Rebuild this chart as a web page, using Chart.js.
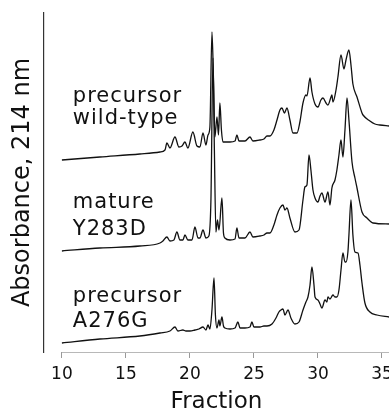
<!DOCTYPE html>
<html>
<head>
<meta charset="utf-8">
<script src="https://cdn.jsdelivr.net/npm/chart.js@4.4.1/dist/chart.umd.min.js"></script>
<style>
  html, body { margin: 0; padding: 0; background: #fff; overflow: hidden; }
  #wrap { width: 389px; height: 413px; overflow: hidden; }
</style>
</head>
<body>
<div id="wrap"><canvas id="hplc-chart" width="410" height="413"></canvas></div>
<script>
// tick labels on the fraction axis
const fractionTicks = [10, 15, 20, 25, 30, 35];

// precursor wild-type (top trace), absorbance in arbitrary units
const wildTypeFraction = [10.00, 12.97, 16.09, 17.66, 18.05, 18.20, 18.44, 18.83, 19.14, 19.38, 19.61, 19.84, 20.23, 20.55, 20.78, 21.02, 21.25, 21.41, 21.56, 21.72, 21.84, 21.95, 22.11, 22.23, 22.34, 22.46, 22.58, 23.13, 23.52, 23.67, 23.83, 24.30, 24.69, 24.92, 25.47, 25.78, 26.02, 26.25, 26.56, 26.80, 27.03, 27.19, 27.38, 27.58, 27.81, 28.05, 28.36, 28.59, 28.83, 29.06, 29.14, 29.38, 29.53, 29.77, 30.00, 30.23, 30.39, 30.63, 30.78, 31.02, 31.09, 31.17, 31.41, 31.56, 31.80, 32.03, 32.19, 32.42, 32.58, 32.73, 33.05, 33.44, 33.52, 34.06, 34.45, 34.84, 35.55];
const wildTypeAbs = [192, 195, 198, 200, 202, 209, 204, 215, 205, 206, 210, 204, 220, 206, 205, 219, 207, 217, 225, 320, 272, 215, 235, 217, 249, 222, 210, 210, 211, 217, 211, 211, 215, 211, 212, 213, 216, 216, 222, 232, 242, 244, 239, 244, 232, 219, 219, 230, 249, 257, 256, 274, 260, 248, 245, 252, 254, 249, 247, 255, 257, 250, 262, 275, 297, 283, 292, 302, 287, 268, 255, 239, 237, 231, 228, 227, 226];

// mature Y283D (middle trace)
const y283dFraction = [10.00, 12.97, 16.09, 17.66, 17.89, 18.20, 18.44, 18.75, 18.98, 19.22, 19.45, 19.61, 19.84, 20.16, 20.39, 20.63, 20.78, 21.02, 21.25, 21.48, 21.64, 21.80, 21.91, 22.03, 22.15, 22.27, 22.50, 22.62, 22.73, 23.13, 23.52, 23.67, 23.83, 24.30, 24.69, 24.92, 25.47, 25.78, 26.02, 26.25, 26.56, 26.80, 27.03, 27.27, 27.42, 27.58, 27.81, 28.20, 28.52, 28.83, 28.98, 29.14, 29.30, 29.45, 29.61, 29.77, 30.00, 30.16, 30.31, 30.55, 30.78, 30.94, 31.09, 31.33, 31.48, 31.64, 31.80, 31.95, 32.11, 32.27, 32.42, 32.66, 32.89, 33.05, 33.44, 33.83, 34.30, 35.55];
const y283dAbs = [101, 104, 106, 109, 111, 115, 111, 112, 120, 112, 112, 117, 112, 112, 125, 114, 114, 122, 114, 116, 152, 294, 202, 120, 132, 122, 154, 119, 114, 112, 113, 124, 114, 114, 120, 115, 116, 117, 119, 119, 127, 137, 144, 147, 142, 144, 134, 120, 122, 152, 165, 167, 197, 182, 162, 154, 150, 156, 159, 150, 160, 147, 164, 172, 182, 197, 212, 195, 222, 254, 232, 190, 174, 164, 140, 134, 129, 128];

// precursor A276G (bottom trace)
const a276gFraction = [10.00, 12.97, 16.09, 17.66, 18.44, 18.83, 19.06, 19.45, 19.69, 20.00, 20.39, 20.70, 21.02, 21.25, 21.41, 21.56, 21.72, 21.88, 21.99, 22.11, 22.27, 22.34, 22.50, 22.62, 22.73, 23.13, 23.52, 23.75, 23.91, 24.30, 24.69, 24.84, 25.00, 25.47, 25.78, 26.02, 26.41, 26.72, 26.95, 27.11, 27.27, 27.42, 27.66, 27.89, 28.20, 28.52, 28.83, 29.06, 29.22, 29.38, 29.53, 29.69, 29.77, 30.00, 30.16, 30.31, 30.55, 30.70, 30.78, 30.94, 31.17, 31.33, 31.48, 31.64, 31.80, 31.95, 32.11, 32.19, 32.34, 32.42, 32.58, 32.73, 32.89, 33.13, 33.28, 33.44, 33.67, 34.06, 34.61, 35.55];
const a276gAbs = [9, 13, 16, 19, 21, 25, 21, 22, 21, 21, 22, 23, 25, 22, 27, 23, 42, 74, 37, 24, 32, 26, 35, 26, 24, 23, 24, 30, 24, 24, 25, 30, 25, 25, 26, 26, 28, 34, 40, 42, 43, 37, 42, 34, 28, 30, 42, 50, 55, 67, 85, 67, 55, 52, 48, 44, 52, 50, 55, 53, 57, 55, 55, 62, 82, 99, 90, 90, 100, 117, 152, 117, 100, 99, 87, 69, 49, 40, 37, 35];

// sample names written beside each trace, two lines each
const traceNames = [['precursor', 'wild-type'], ['mature', 'Y283D'], ['precursor', 'A276G']];
const nameLevels = [[250, 228], [144, 117], [50, 25]];
const nameFraction = 10.85;

const FONT = '"DejaVu Sans", sans-serif';

function points(xs, ys) {
  return xs.map((x, i) => ({ x, y: ys[i] }));
}

function trace(data) {
  return {
    data,
    borderColor: '#111',
    borderWidth: 1.3,
    pointRadius: 0,
    cubicInterpolationMode: 'monotone',
    fill: false
  };
}

// x axis base line only from the first tick onward, like the scan
const axisLine = {
  id: 'axisLine',
  beforeDatasetsDraw(chart) {
    const { ctx, chartArea, scales: { x } } = chart;
    ctx.save();
    ctx.strokeStyle = '#b8b8b8';
    ctx.lineWidth = 1;
    ctx.beginPath();
    ctx.moveTo(x.getPixelForValue(fractionTicks[0]), chartArea.bottom + 0.5);
    ctx.lineTo(chartArea.right, chartArea.bottom + 0.5);
    ctx.stroke();
    ctx.restore();
  }
};

const sampleNames = {
  id: 'sampleNames',
  afterDatasetsDraw(chart) {
    const { ctx, scales: { x, y } } = chart;
    ctx.save();
    ctx.font = '21px ' + FONT;
    ctx.fillStyle = '#111';
    ctx.textBaseline = 'alphabetic';
    ctx.letterSpacing = '1px';
    const px = x.getPixelForValue(nameFraction);
    traceNames.forEach((lines, i) => {
      lines.forEach((txt, j) => ctx.fillText(txt, px, y.getPixelForValue(nameLevels[i][j])));
    });
    ctx.restore();
  }
};

const ctx = document.getElementById('hplc-chart');

new Chart(ctx, {
  type: 'line',
  data: {
    datasets: [
      trace(points(wildTypeFraction, wildTypeAbs)),
      trace(points(y283dFraction, y283dAbs)),
      trace(points(a276gFraction, a276gAbs))
    ]
  },
  options: {
    responsive: false,
    animation: false,
    devicePixelRatio: 1,
    layout: { padding: { top: 13, right: 21, bottom: 0, left: 0 } },
    plugins: { legend: { display: false }, tooltip: { enabled: false } },
    scales: {
      x: {
        type: 'linear',
        min: 8.6,
        max: 35.55,
        afterBuildTicks: axis => { axis.ticks = fractionTicks.map(v => ({ value: v })); },
        border: { display: false },
        grid: { drawOnChartArea: false, drawTicks: true, tickLength: 6, color: '#999' },
        ticks: { color: '#111', padding: 6.8, font: { size: 17, family: FONT, lineHeight: 1.2 } },
        title: {
          display: true,
          text: 'Fraction',
          color: '#111',
          font: { size: 23, family: FONT, lineHeight: '21px' },
          padding: { top: 0, bottom: 0 }
        }
      },
      y: {
        min: 0,
        max: 339,
        border: { display: true, color: '#333', width: 1.2 },
        grid: { display: false, drawTicks: false },
        ticks: { display: false },
        title: {
          display: true,
          text: 'Absorbance, 214 nm',
          color: '#111',
          font: { size: 24, family: FONT, lineHeight: 1.2 },
          padding: { top: 8, bottom: 7.2 }
        }
      }
    }
  },
  plugins: [axisLine, sampleNames]
});
</script>
</body>
</html>
